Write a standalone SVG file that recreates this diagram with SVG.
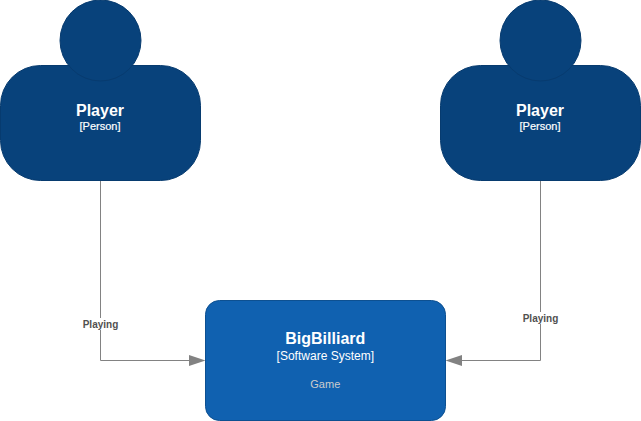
<svg xmlns="http://www.w3.org/2000/svg" width="641" height="421" viewBox="0 0 641 421">
<style>
text{font-family:"Liberation Sans",Arial,sans-serif;text-anchor:middle}
.p{fill:#08427b;stroke:#073b6f;stroke-width:1}
.s{fill:#1061b0;stroke:#0d5091;stroke-width:1}
.c{fill:none;stroke:#828282;stroke-width:1}
.b{fill:#828282}
.t{font-size:16px;font-weight:bold;fill:#fff}
.k{font-size:11px;fill:#fff;stroke:#fff;stroke-width:.2}
.y{font-size:12px;fill:#fff}
.g{font-size:11px;fill:#ccc}
.l{font-size:10px;font-weight:bold;fill:#505050}
</style>
<rect width="641" height="421" fill="#fff"/>
<g id="connectors">
<path class="c" d="M100.500 180.500V360.500H190"/>
<path class="b" d="M189 355L205.500 360.500L189 366Z"/>
<path class="c" d="M540.500 180.500V360.500H461"/>
<path class="b" d="M462 355L445.500 360.500L462 366Z"/>
<rect x="83" y="318" width="35" height="12" fill="#fff"/>
<text class="l" x="100.500" y="327.500">Playing</text>
<rect x="523" y="312" width="35" height="12" fill="#fff"/>
<text class="l" x="540.500" y="321.500">Playing</text>
</g>
<g id="player-1">
<rect class="p" x="0.500" y="65.500" width="200" height="115" rx="40"/>
<circle class="p" cx="100.500" cy="40.500" r="40.500"/>
<text class="t" x="100" y="116">Player</text>
<text class="k" x="100" y="130">[Person]</text>
</g>
<g id="player-2">
<rect class="p" x="440.500" y="65.500" width="200" height="115" rx="40"/>
<circle class="p" cx="540.500" cy="40.500" r="40.500"/>
<text class="t" x="540" y="116">Player</text>
<text class="k" x="540" y="130">[Person]</text>
</g>
<g id="bigbilliard">
<rect class="s" x="205.500" y="300.500" width="240" height="120" rx="14"/>
<text class="t" x="325.300" y="344">BigBilliard</text>
<text class="y" x="325.300" y="360">[Software System]</text>
<text class="g" x="325.300" y="388">Game</text>
</g>
</svg>
